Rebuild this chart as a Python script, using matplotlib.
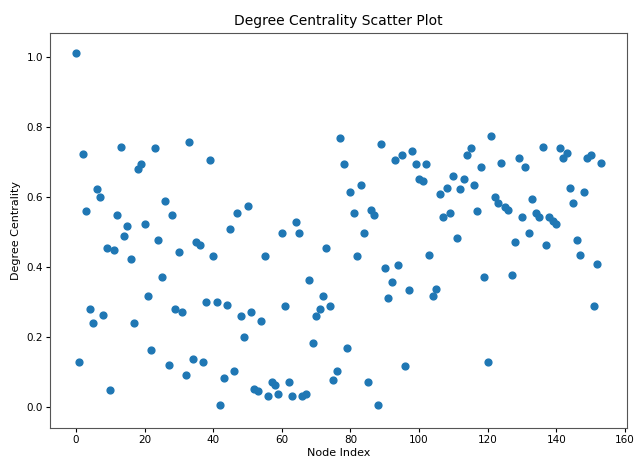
import matplotlib
matplotlib.use("Agg")
import matplotlib.pyplot as plt
import numpy as np

# degree centrality per node (node 0..153)
centrality = [
    1.010, 0.129, 0.723, 0.560, 0.280, 0.239, 0.621, 0.599, 0.264, 0.454,
    0.049, 0.448, 0.549, 0.742, 0.489, 0.516, 0.423, 0.239, 0.678, 0.693,
    0.522, 0.318, 0.162, 0.738, 0.477, 0.370, 0.587, 0.121, 0.549, 0.280,
    0.442, 0.271, 0.090, 0.756, 0.136, 0.470, 0.463, 0.128, 0.299, 0.704,
    0.430, 0.299, 0.005, 0.083, 0.291, 0.508, 0.102, 0.555, 0.261, 0.201,
    0.575, 0.272, 0.052, 0.045, 0.245, 0.430, 0.030, 0.072, 0.064, 0.038,
    0.497, 0.287, 0.072, 0.030, 0.527, 0.497, 0.030, 0.038, 0.363, 0.182,
    0.261, 0.280, 0.318, 0.453, 0.287, 0.077, 0.102, 0.769, 0.693, 0.168,
    0.613, 0.555, 0.430, 0.633, 0.497, 0.072, 0.562, 0.549, 0.005, 0.750,
    0.396, 0.311, 0.358, 0.704, 0.404, 0.719, 0.118, 0.333, 0.731, 0.693,
    0.652, 0.646, 0.693, 0.435, 0.318, 0.336, 0.607, 0.543, 0.626, 0.555,
    0.660, 0.482, 0.622, 0.652, 0.719, 0.738, 0.633, 0.560, 0.685, 0.370,
    0.129, 0.775, 0.600, 0.581, 0.697, 0.570, 0.562, 0.377, 0.470, 0.712,
    0.543, 0.685, 0.497, 0.595, 0.555, 0.543, 0.742, 0.463, 0.543, 0.532,
    0.522, 0.738, 0.712, 0.725, 0.626, 0.581, 0.477, 0.435, 0.613, 0.712,
    0.719, 0.287, 0.409, 0.697,
]
node_index = np.arange(len(centrality))

fig = plt.figure(figsize=(6.38, 4.57), dpi=100)
ax = fig.add_axes([0.078, 0.0635, 0.905, 0.8645])

ax.scatter(node_index, centrality, s=24, color='#1f77b4')

ax.set_ylim(-0.06, 1.068)
ax.set_title('Degree Centrality Scatter Plot', fontsize=10)
ax.set_xlabel('Node Index', fontsize=8, labelpad=2)
ax.set_ylabel('Degree Centrality', fontsize=8, labelpad=4)
ax.tick_params(labelsize=7.5, length=3, pad=2)
for s in ax.spines.values():
    s.set_color('#555555')

fig.savefig('out.png', dpi=100)
